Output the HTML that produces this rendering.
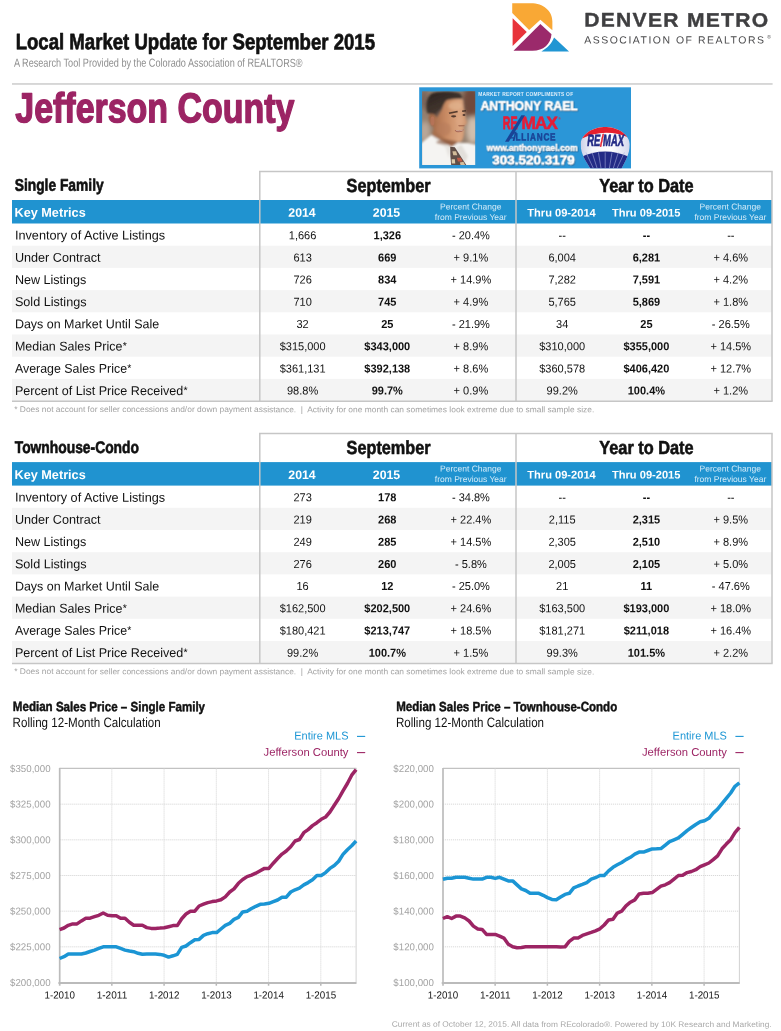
<!DOCTYPE html>
<html lang="en"><head><meta charset="utf-8"><title>Local Market Update for September 2015 - Jefferson County</title>
<style>
html,body{margin:0;padding:0;background:#fff;}
body{width:781px;height:1031px;overflow:hidden;font-family:"Liberation Sans",sans-serif;}
svg{display:block;}
svg text{font-family:"Liberation Sans",sans-serif;}
</style></head><body>
<svg width="781" height="1031" viewBox="0 0 781 1031">
<rect width="781" height="1031" fill="#fff"/>
<g id="header">
<text transform="translate(15.65 49.20) scale(0.8340 1) rotate(0.03)" font-size="22.3" font-weight="bold" fill="#111" stroke="#111" stroke-width="0.7" stroke-linejoin="round">Local Market Update for September 2015</text>
<text transform="translate(13.90 66.70) scale(0.7753 1) rotate(0.03)" font-size="11.8" fill="#8e8e8e">A Research Tool Provided by the Colorado Association of REALTORS®</text>
<rect x="12.00" y="83.00" width="760.60" height="1.90" fill="#d6d6d6"/>
<text transform="translate(15.30 122.25) scale(0.8120 1) rotate(0.03)" font-size="41.8" font-weight="bold" fill="#9c2464" stroke="#9c2464" stroke-width="1.4" stroke-linejoin="round">Jefferson County</text>
</g>
<g id="logo" transform="translate(508 0) scale(0.084507)">
<path d="M50 38 H270 C420 38 525 130 525 250 V358 L383 235 L250 355 L50 155 Z" fill="#f9a835"/>
<path d="M55 215 L222 380 L55 545 Z" fill="#e8333a"/>
<path d="M65 601 L383 285 L515 405 C505 520 420 601 290 601 Z" fill="#9b2a6b"/>
<path d="M545 445 L722 608 H395 C470 570 520 510 545 445 Z" fill="#2196d3"/>
</g>
<text transform="translate(584.30 26.60) scale(1.0748 1) rotate(0.03)" font-size="19.6" font-weight="bold" letter-spacing="1.2" fill="#3f3f41" stroke="#3f3f41" stroke-width="0.4" stroke-linejoin="round">DENVER METRO</text>
<text transform="translate(584.20 43.50) scale(1.0076 1) rotate(0.03)" font-size="10.4" letter-spacing="1.5" fill="#4a4a4c">ASSOCIATION OF REALTORS</text>
<text transform="translate(767.30 38.60) scale(1.0000 1) rotate(0.03)" font-size="5" fill="#4a4a4c">®</text>
<g class="tbl">
<rect x="12.00" y="245.70" width="759.80" height="22.20" fill="#f4f4f4"/>
<rect x="12.00" y="290.10" width="759.80" height="22.20" fill="#f4f4f4"/>
<rect x="12.00" y="334.50" width="759.80" height="22.20" fill="#f4f4f4"/>
<rect x="12.00" y="378.90" width="759.80" height="22.20" fill="#f4f4f4"/>
<rect x="12.00" y="200.00" width="760.00" height="23.50" fill="#2093d0"/>
<line x1="259.00" y1="171.50" x2="772.70" y2="171.50" stroke="#c6c6c6" stroke-width="1.5"/>
<line x1="259.80" y1="171.50" x2="259.80" y2="401.10" stroke="#c6c6c6" stroke-width="1.5"/>
<line x1="516.00" y1="171.50" x2="516.00" y2="401.10" stroke="#c6c6c6" stroke-width="1.5"/>
<line x1="772.00" y1="171.50" x2="772.00" y2="401.10" stroke="#c6c6c6" stroke-width="1.5"/>
<line x1="12.00" y1="401.30" x2="772.70" y2="401.30" stroke="#c6c6c6" stroke-width="1.5"/>
<text transform="translate(14.70 190.80) scale(0.8169 1) rotate(0.03)" font-size="16.9" font-weight="bold" fill="#111" stroke="#111" stroke-width="0.6" stroke-linejoin="round">Single Family</text>
<text transform="translate(388.60 192.00) scale(0.8645 1) rotate(0.03)" font-size="18.8" font-weight="bold" text-anchor="middle" fill="#111" stroke="#111" stroke-width="0.6" stroke-linejoin="round">September</text>
<text transform="translate(646.40 192.00) scale(0.8687 1) rotate(0.03)" font-size="18.8" font-weight="bold" text-anchor="middle" fill="#111" stroke="#111" stroke-width="0.6" stroke-linejoin="round">Year to Date</text>
<text transform="translate(14.50 216.80) scale(1.0000 1) rotate(0.03)" font-size="12.7" font-weight="bold" fill="#fff">Key Metrics</text>
<text transform="translate(302.00 216.80) scale(1.0000 1) rotate(0.03)" font-size="12.3" font-weight="bold" text-anchor="middle" fill="#fff">2014</text>
<text transform="translate(386.50 216.80) scale(1.0000 1) rotate(0.03)" font-size="12.3" font-weight="bold" text-anchor="middle" fill="#fff">2015</text>
<text transform="translate(561.50 216.40) scale(1.0000 1) rotate(0.03)" font-size="11.1" font-weight="bold" text-anchor="middle" fill="#fff">Thru 09-2014</text>
<text transform="translate(646.20 216.40) scale(1.0000 1) rotate(0.03)" font-size="11.1" font-weight="bold" text-anchor="middle" fill="#fff">Thru 09-2015</text>
<text transform="translate(470.70 209.40) scale(1.0000 1) rotate(0.03)" font-size="8.5" text-anchor="middle" fill="#d4ecf9">Percent Change</text>
<text transform="translate(470.70 219.90) scale(1.0000 1) rotate(0.03)" font-size="8.5" text-anchor="middle" fill="#d4ecf9">from Previous Year</text>
<text transform="translate(730.30 209.40) scale(1.0000 1) rotate(0.03)" font-size="8.5" text-anchor="middle" fill="#d4ecf9">Percent Change</text>
<text transform="translate(730.30 219.90) scale(1.0000 1) rotate(0.03)" font-size="8.5" text-anchor="middle" fill="#d4ecf9">from Previous Year</text>
<text transform="translate(14.90 239.50) scale(0.9996 1) rotate(0.03)" font-size="12.7" fill="#111">Inventory of Active Listings</text>
<text transform="translate(302.60 239.20) scale(0.9500 1) rotate(0.03)" font-size="11.6" text-anchor="middle" fill="#111">1,666</text>
<text transform="translate(387.30 239.20) scale(0.9500 1) rotate(0.03)" font-size="11.6" font-weight="bold" text-anchor="middle" fill="#111">1,326</text>
<text transform="translate(470.90 239.20) scale(0.9500 1) rotate(0.03)" font-size="11.6" text-anchor="middle" fill="#111">- 20.4%</text>
<text transform="translate(562.20 239.20) scale(0.9500 1) rotate(0.03)" font-size="11.6" text-anchor="middle" fill="#111">--</text>
<text transform="translate(646.40 239.20) scale(0.9500 1) rotate(0.03)" font-size="11.6" font-weight="bold" text-anchor="middle" fill="#111">--</text>
<text transform="translate(730.80 239.20) scale(0.9500 1) rotate(0.03)" font-size="11.6" text-anchor="middle" fill="#111">--</text>
<text transform="translate(14.90 261.70) scale(0.9963 1) rotate(0.03)" font-size="12.7" fill="#111">Under Contract</text>
<text transform="translate(302.60 261.40) scale(0.9500 1) rotate(0.03)" font-size="11.6" text-anchor="middle" fill="#111">613</text>
<text transform="translate(387.30 261.40) scale(0.9500 1) rotate(0.03)" font-size="11.6" font-weight="bold" text-anchor="middle" fill="#111">669</text>
<text transform="translate(470.90 261.40) scale(0.9500 1) rotate(0.03)" font-size="11.6" text-anchor="middle" fill="#111">+ 9.1%</text>
<text transform="translate(562.20 261.40) scale(0.9500 1) rotate(0.03)" font-size="11.6" text-anchor="middle" fill="#111">6,004</text>
<text transform="translate(646.40 261.40) scale(0.9500 1) rotate(0.03)" font-size="11.6" font-weight="bold" text-anchor="middle" fill="#111">6,281</text>
<text transform="translate(730.80 261.40) scale(0.9500 1) rotate(0.03)" font-size="11.6" text-anchor="middle" fill="#111">+ 4.6%</text>
<text transform="translate(14.90 283.90) scale(0.9917 1) rotate(0.03)" font-size="12.7" fill="#111">New Listings</text>
<text transform="translate(302.60 283.60) scale(0.9500 1) rotate(0.03)" font-size="11.6" text-anchor="middle" fill="#111">726</text>
<text transform="translate(387.30 283.60) scale(0.9500 1) rotate(0.03)" font-size="11.6" font-weight="bold" text-anchor="middle" fill="#111">834</text>
<text transform="translate(470.90 283.60) scale(0.9500 1) rotate(0.03)" font-size="11.6" text-anchor="middle" fill="#111">+ 14.9%</text>
<text transform="translate(562.20 283.60) scale(0.9500 1) rotate(0.03)" font-size="11.6" text-anchor="middle" fill="#111">7,282</text>
<text transform="translate(646.40 283.60) scale(0.9500 1) rotate(0.03)" font-size="11.6" font-weight="bold" text-anchor="middle" fill="#111">7,591</text>
<text transform="translate(730.80 283.60) scale(0.9500 1) rotate(0.03)" font-size="11.6" text-anchor="middle" fill="#111">+ 4.2%</text>
<text transform="translate(14.90 306.10) scale(0.9957 1) rotate(0.03)" font-size="12.7" fill="#111">Sold Listings</text>
<text transform="translate(302.60 305.80) scale(0.9500 1) rotate(0.03)" font-size="11.6" text-anchor="middle" fill="#111">710</text>
<text transform="translate(387.30 305.80) scale(0.9500 1) rotate(0.03)" font-size="11.6" font-weight="bold" text-anchor="middle" fill="#111">745</text>
<text transform="translate(470.90 305.80) scale(0.9500 1) rotate(0.03)" font-size="11.6" text-anchor="middle" fill="#111">+ 4.9%</text>
<text transform="translate(562.20 305.80) scale(0.9500 1) rotate(0.03)" font-size="11.6" text-anchor="middle" fill="#111">5,765</text>
<text transform="translate(646.40 305.80) scale(0.9500 1) rotate(0.03)" font-size="11.6" font-weight="bold" text-anchor="middle" fill="#111">5,869</text>
<text transform="translate(730.80 305.80) scale(0.9500 1) rotate(0.03)" font-size="11.6" text-anchor="middle" fill="#111">+ 1.8%</text>
<text transform="translate(14.90 328.30) scale(0.9835 1) rotate(0.03)" font-size="12.7" fill="#111">Days on Market Until Sale</text>
<text transform="translate(302.60 328.00) scale(0.9500 1) rotate(0.03)" font-size="11.6" text-anchor="middle" fill="#111">32</text>
<text transform="translate(387.30 328.00) scale(0.9500 1) rotate(0.03)" font-size="11.6" font-weight="bold" text-anchor="middle" fill="#111">25</text>
<text transform="translate(470.90 328.00) scale(0.9500 1) rotate(0.03)" font-size="11.6" text-anchor="middle" fill="#111">- 21.9%</text>
<text transform="translate(562.20 328.00) scale(0.9500 1) rotate(0.03)" font-size="11.6" text-anchor="middle" fill="#111">34</text>
<text transform="translate(646.40 328.00) scale(0.9500 1) rotate(0.03)" font-size="11.6" font-weight="bold" text-anchor="middle" fill="#111">25</text>
<text transform="translate(730.80 328.00) scale(0.9500 1) rotate(0.03)" font-size="11.6" text-anchor="middle" fill="#111">- 26.5%</text>
<text transform="translate(14.90 350.50) scale(0.9834 1) rotate(0.03)" font-size="12.7" fill="#111">Median Sales Price</text>
<text transform="translate(122.70 349.30) scale(1.0000 1) rotate(0.03)" font-size="10.5" fill="#111">*</text>
<text transform="translate(302.60 350.20) scale(0.9500 1) rotate(0.03)" font-size="11.6" text-anchor="middle" fill="#111">$315,000</text>
<text transform="translate(387.30 350.20) scale(0.9500 1) rotate(0.03)" font-size="11.6" font-weight="bold" text-anchor="middle" fill="#111">$343,000</text>
<text transform="translate(470.90 350.20) scale(0.9500 1) rotate(0.03)" font-size="11.6" text-anchor="middle" fill="#111">+ 8.9%</text>
<text transform="translate(562.20 350.20) scale(0.9500 1) rotate(0.03)" font-size="11.6" text-anchor="middle" fill="#111">$310,000</text>
<text transform="translate(646.40 350.20) scale(0.9500 1) rotate(0.03)" font-size="11.6" font-weight="bold" text-anchor="middle" fill="#111">$355,000</text>
<text transform="translate(730.80 350.20) scale(0.9500 1) rotate(0.03)" font-size="11.6" text-anchor="middle" fill="#111">+ 14.5%</text>
<text transform="translate(14.90 372.70) scale(0.9770 1) rotate(0.03)" font-size="12.7" fill="#111">Average Sales Price</text>
<text transform="translate(127.30 371.50) scale(1.0000 1) rotate(0.03)" font-size="10.5" fill="#111">*</text>
<text transform="translate(302.60 372.40) scale(0.9500 1) rotate(0.03)" font-size="11.6" text-anchor="middle" fill="#111">$361,131</text>
<text transform="translate(387.30 372.40) scale(0.9500 1) rotate(0.03)" font-size="11.6" font-weight="bold" text-anchor="middle" fill="#111">$392,138</text>
<text transform="translate(470.90 372.40) scale(0.9500 1) rotate(0.03)" font-size="11.6" text-anchor="middle" fill="#111">+ 8.6%</text>
<text transform="translate(562.20 372.40) scale(0.9500 1) rotate(0.03)" font-size="11.6" text-anchor="middle" fill="#111">$360,578</text>
<text transform="translate(646.40 372.40) scale(0.9500 1) rotate(0.03)" font-size="11.6" font-weight="bold" text-anchor="middle" fill="#111">$406,420</text>
<text transform="translate(730.80 372.40) scale(0.9500 1) rotate(0.03)" font-size="11.6" text-anchor="middle" fill="#111">+ 12.7%</text>
<text transform="translate(14.90 394.90) scale(0.9905 1) rotate(0.03)" font-size="12.7" fill="#111">Percent of List Price Received</text>
<text transform="translate(183.60 393.70) scale(1.0000 1) rotate(0.03)" font-size="10.5" fill="#111">*</text>
<text transform="translate(302.60 394.60) scale(0.9500 1) rotate(0.03)" font-size="11.6" text-anchor="middle" fill="#111">98.8%</text>
<text transform="translate(387.30 394.60) scale(0.9500 1) rotate(0.03)" font-size="11.6" font-weight="bold" text-anchor="middle" fill="#111">99.7%</text>
<text transform="translate(470.90 394.60) scale(0.9500 1) rotate(0.03)" font-size="11.6" text-anchor="middle" fill="#111">+ 0.9%</text>
<text transform="translate(562.20 394.60) scale(0.9500 1) rotate(0.03)" font-size="11.6" text-anchor="middle" fill="#111">99.2%</text>
<text transform="translate(646.40 394.60) scale(0.9500 1) rotate(0.03)" font-size="11.6" font-weight="bold" text-anchor="middle" fill="#111">100.4%</text>
<text transform="translate(730.80 394.60) scale(0.9500 1) rotate(0.03)" font-size="11.6" text-anchor="middle" fill="#111">+ 1.2%</text>
<text transform="translate(14.20 412.00) scale(1.0283 1) rotate(0.03)" font-size="8.2" fill="#a2a2a2" xml:space="preserve">* Does not account for seller concessions and/or down payment assistance.  |  Activity for one month can sometimes look extreme due to small sample size.</text>
</g>
<g class="tbl">
<rect x="12.00" y="507.80" width="759.80" height="22.20" fill="#f4f4f4"/>
<rect x="12.00" y="552.20" width="759.80" height="22.20" fill="#f4f4f4"/>
<rect x="12.00" y="596.60" width="759.80" height="22.20" fill="#f4f4f4"/>
<rect x="12.00" y="641.00" width="759.80" height="22.20" fill="#f4f4f4"/>
<rect x="12.00" y="462.10" width="760.00" height="23.50" fill="#2093d0"/>
<line x1="259.00" y1="433.60" x2="772.70" y2="433.60" stroke="#c6c6c6" stroke-width="1.5"/>
<line x1="259.80" y1="433.60" x2="259.80" y2="663.20" stroke="#c6c6c6" stroke-width="1.5"/>
<line x1="516.00" y1="433.60" x2="516.00" y2="663.20" stroke="#c6c6c6" stroke-width="1.5"/>
<line x1="772.00" y1="433.60" x2="772.00" y2="663.20" stroke="#c6c6c6" stroke-width="1.5"/>
<line x1="12.00" y1="663.40" x2="772.70" y2="663.40" stroke="#c6c6c6" stroke-width="1.5"/>
<text transform="translate(14.70 452.90) scale(0.8197 1) rotate(0.03)" font-size="16.9" font-weight="bold" fill="#111" stroke="#111" stroke-width="0.6" stroke-linejoin="round">Townhouse-Condo</text>
<text transform="translate(388.60 454.10) scale(0.8645 1) rotate(0.03)" font-size="18.8" font-weight="bold" text-anchor="middle" fill="#111" stroke="#111" stroke-width="0.6" stroke-linejoin="round">September</text>
<text transform="translate(646.40 454.10) scale(0.8687 1) rotate(0.03)" font-size="18.8" font-weight="bold" text-anchor="middle" fill="#111" stroke="#111" stroke-width="0.6" stroke-linejoin="round">Year to Date</text>
<text transform="translate(14.50 478.90) scale(1.0000 1) rotate(0.03)" font-size="12.7" font-weight="bold" fill="#fff">Key Metrics</text>
<text transform="translate(302.00 478.90) scale(1.0000 1) rotate(0.03)" font-size="12.3" font-weight="bold" text-anchor="middle" fill="#fff">2014</text>
<text transform="translate(386.50 478.90) scale(1.0000 1) rotate(0.03)" font-size="12.3" font-weight="bold" text-anchor="middle" fill="#fff">2015</text>
<text transform="translate(561.50 478.50) scale(1.0000 1) rotate(0.03)" font-size="11.1" font-weight="bold" text-anchor="middle" fill="#fff">Thru 09-2014</text>
<text transform="translate(646.20 478.50) scale(1.0000 1) rotate(0.03)" font-size="11.1" font-weight="bold" text-anchor="middle" fill="#fff">Thru 09-2015</text>
<text transform="translate(470.70 471.50) scale(1.0000 1) rotate(0.03)" font-size="8.5" text-anchor="middle" fill="#d4ecf9">Percent Change</text>
<text transform="translate(470.70 482.00) scale(1.0000 1) rotate(0.03)" font-size="8.5" text-anchor="middle" fill="#d4ecf9">from Previous Year</text>
<text transform="translate(730.30 471.50) scale(1.0000 1) rotate(0.03)" font-size="8.5" text-anchor="middle" fill="#d4ecf9">Percent Change</text>
<text transform="translate(730.30 482.00) scale(1.0000 1) rotate(0.03)" font-size="8.5" text-anchor="middle" fill="#d4ecf9">from Previous Year</text>
<text transform="translate(14.90 501.60) scale(0.9996 1) rotate(0.03)" font-size="12.7" fill="#111">Inventory of Active Listings</text>
<text transform="translate(302.60 501.30) scale(0.9500 1) rotate(0.03)" font-size="11.6" text-anchor="middle" fill="#111">273</text>
<text transform="translate(387.30 501.30) scale(0.9500 1) rotate(0.03)" font-size="11.6" font-weight="bold" text-anchor="middle" fill="#111">178</text>
<text transform="translate(470.90 501.30) scale(0.9500 1) rotate(0.03)" font-size="11.6" text-anchor="middle" fill="#111">- 34.8%</text>
<text transform="translate(562.20 501.30) scale(0.9500 1) rotate(0.03)" font-size="11.6" text-anchor="middle" fill="#111">--</text>
<text transform="translate(646.40 501.30) scale(0.9500 1) rotate(0.03)" font-size="11.6" font-weight="bold" text-anchor="middle" fill="#111">--</text>
<text transform="translate(730.80 501.30) scale(0.9500 1) rotate(0.03)" font-size="11.6" text-anchor="middle" fill="#111">--</text>
<text transform="translate(14.90 523.80) scale(0.9963 1) rotate(0.03)" font-size="12.7" fill="#111">Under Contract</text>
<text transform="translate(302.60 523.50) scale(0.9500 1) rotate(0.03)" font-size="11.6" text-anchor="middle" fill="#111">219</text>
<text transform="translate(387.30 523.50) scale(0.9500 1) rotate(0.03)" font-size="11.6" font-weight="bold" text-anchor="middle" fill="#111">268</text>
<text transform="translate(470.90 523.50) scale(0.9500 1) rotate(0.03)" font-size="11.6" text-anchor="middle" fill="#111">+ 22.4%</text>
<text transform="translate(562.20 523.50) scale(0.9500 1) rotate(0.03)" font-size="11.6" text-anchor="middle" fill="#111">2,115</text>
<text transform="translate(646.40 523.50) scale(0.9500 1) rotate(0.03)" font-size="11.6" font-weight="bold" text-anchor="middle" fill="#111">2,315</text>
<text transform="translate(730.80 523.50) scale(0.9500 1) rotate(0.03)" font-size="11.6" text-anchor="middle" fill="#111">+ 9.5%</text>
<text transform="translate(14.90 546.00) scale(0.9917 1) rotate(0.03)" font-size="12.7" fill="#111">New Listings</text>
<text transform="translate(302.60 545.70) scale(0.9500 1) rotate(0.03)" font-size="11.6" text-anchor="middle" fill="#111">249</text>
<text transform="translate(387.30 545.70) scale(0.9500 1) rotate(0.03)" font-size="11.6" font-weight="bold" text-anchor="middle" fill="#111">285</text>
<text transform="translate(470.90 545.70) scale(0.9500 1) rotate(0.03)" font-size="11.6" text-anchor="middle" fill="#111">+ 14.5%</text>
<text transform="translate(562.20 545.70) scale(0.9500 1) rotate(0.03)" font-size="11.6" text-anchor="middle" fill="#111">2,305</text>
<text transform="translate(646.40 545.70) scale(0.9500 1) rotate(0.03)" font-size="11.6" font-weight="bold" text-anchor="middle" fill="#111">2,510</text>
<text transform="translate(730.80 545.70) scale(0.9500 1) rotate(0.03)" font-size="11.6" text-anchor="middle" fill="#111">+ 8.9%</text>
<text transform="translate(14.90 568.20) scale(0.9957 1) rotate(0.03)" font-size="12.7" fill="#111">Sold Listings</text>
<text transform="translate(302.60 567.90) scale(0.9500 1) rotate(0.03)" font-size="11.6" text-anchor="middle" fill="#111">276</text>
<text transform="translate(387.30 567.90) scale(0.9500 1) rotate(0.03)" font-size="11.6" font-weight="bold" text-anchor="middle" fill="#111">260</text>
<text transform="translate(470.90 567.90) scale(0.9500 1) rotate(0.03)" font-size="11.6" text-anchor="middle" fill="#111">- 5.8%</text>
<text transform="translate(562.20 567.90) scale(0.9500 1) rotate(0.03)" font-size="11.6" text-anchor="middle" fill="#111">2,005</text>
<text transform="translate(646.40 567.90) scale(0.9500 1) rotate(0.03)" font-size="11.6" font-weight="bold" text-anchor="middle" fill="#111">2,105</text>
<text transform="translate(730.80 567.90) scale(0.9500 1) rotate(0.03)" font-size="11.6" text-anchor="middle" fill="#111">+ 5.0%</text>
<text transform="translate(14.90 590.40) scale(0.9835 1) rotate(0.03)" font-size="12.7" fill="#111">Days on Market Until Sale</text>
<text transform="translate(302.60 590.10) scale(0.9500 1) rotate(0.03)" font-size="11.6" text-anchor="middle" fill="#111">16</text>
<text transform="translate(387.30 590.10) scale(0.9500 1) rotate(0.03)" font-size="11.6" font-weight="bold" text-anchor="middle" fill="#111">12</text>
<text transform="translate(470.90 590.10) scale(0.9500 1) rotate(0.03)" font-size="11.6" text-anchor="middle" fill="#111">- 25.0%</text>
<text transform="translate(562.20 590.10) scale(0.9500 1) rotate(0.03)" font-size="11.6" text-anchor="middle" fill="#111">21</text>
<text transform="translate(646.40 590.10) scale(0.9500 1) rotate(0.03)" font-size="11.6" font-weight="bold" text-anchor="middle" fill="#111">11</text>
<text transform="translate(730.80 590.10) scale(0.9500 1) rotate(0.03)" font-size="11.6" text-anchor="middle" fill="#111">- 47.6%</text>
<text transform="translate(14.90 612.60) scale(0.9834 1) rotate(0.03)" font-size="12.7" fill="#111">Median Sales Price</text>
<text transform="translate(122.70 611.40) scale(1.0000 1) rotate(0.03)" font-size="10.5" fill="#111">*</text>
<text transform="translate(302.60 612.30) scale(0.9500 1) rotate(0.03)" font-size="11.6" text-anchor="middle" fill="#111">$162,500</text>
<text transform="translate(387.30 612.30) scale(0.9500 1) rotate(0.03)" font-size="11.6" font-weight="bold" text-anchor="middle" fill="#111">$202,500</text>
<text transform="translate(470.90 612.30) scale(0.9500 1) rotate(0.03)" font-size="11.6" text-anchor="middle" fill="#111">+ 24.6%</text>
<text transform="translate(562.20 612.30) scale(0.9500 1) rotate(0.03)" font-size="11.6" text-anchor="middle" fill="#111">$163,500</text>
<text transform="translate(646.40 612.30) scale(0.9500 1) rotate(0.03)" font-size="11.6" font-weight="bold" text-anchor="middle" fill="#111">$193,000</text>
<text transform="translate(730.80 612.30) scale(0.9500 1) rotate(0.03)" font-size="11.6" text-anchor="middle" fill="#111">+ 18.0%</text>
<text transform="translate(14.90 634.80) scale(0.9770 1) rotate(0.03)" font-size="12.7" fill="#111">Average Sales Price</text>
<text transform="translate(127.30 633.60) scale(1.0000 1) rotate(0.03)" font-size="10.5" fill="#111">*</text>
<text transform="translate(302.60 634.50) scale(0.9500 1) rotate(0.03)" font-size="11.6" text-anchor="middle" fill="#111">$180,421</text>
<text transform="translate(387.30 634.50) scale(0.9500 1) rotate(0.03)" font-size="11.6" font-weight="bold" text-anchor="middle" fill="#111">$213,747</text>
<text transform="translate(470.90 634.50) scale(0.9500 1) rotate(0.03)" font-size="11.6" text-anchor="middle" fill="#111">+ 18.5%</text>
<text transform="translate(562.20 634.50) scale(0.9500 1) rotate(0.03)" font-size="11.6" text-anchor="middle" fill="#111">$181,271</text>
<text transform="translate(646.40 634.50) scale(0.9500 1) rotate(0.03)" font-size="11.6" font-weight="bold" text-anchor="middle" fill="#111">$211,018</text>
<text transform="translate(730.80 634.50) scale(0.9500 1) rotate(0.03)" font-size="11.6" text-anchor="middle" fill="#111">+ 16.4%</text>
<text transform="translate(14.90 657.00) scale(0.9905 1) rotate(0.03)" font-size="12.7" fill="#111">Percent of List Price Received</text>
<text transform="translate(183.60 655.80) scale(1.0000 1) rotate(0.03)" font-size="10.5" fill="#111">*</text>
<text transform="translate(302.60 656.70) scale(0.9500 1) rotate(0.03)" font-size="11.6" text-anchor="middle" fill="#111">99.2%</text>
<text transform="translate(387.30 656.70) scale(0.9500 1) rotate(0.03)" font-size="11.6" font-weight="bold" text-anchor="middle" fill="#111">100.7%</text>
<text transform="translate(470.90 656.70) scale(0.9500 1) rotate(0.03)" font-size="11.6" text-anchor="middle" fill="#111">+ 1.5%</text>
<text transform="translate(562.20 656.70) scale(0.9500 1) rotate(0.03)" font-size="11.6" text-anchor="middle" fill="#111">99.3%</text>
<text transform="translate(646.40 656.70) scale(0.9500 1) rotate(0.03)" font-size="11.6" font-weight="bold" text-anchor="middle" fill="#111">101.5%</text>
<text transform="translate(730.80 656.70) scale(0.9500 1) rotate(0.03)" font-size="11.6" text-anchor="middle" fill="#111">+ 2.2%</text>
<text transform="translate(14.20 674.10) scale(1.0283 1) rotate(0.03)" font-size="8.2" fill="#a2a2a2" xml:space="preserve">* Does not account for seller concessions and/or down payment assistance.  |  Activity for one month can sometimes look extreme due to small sample size.</text>
</g>
<g class="chart">
<text transform="translate(12.82 711.10) scale(0.8578 1) rotate(0.03)" font-size="13.5" font-weight="bold" fill="#111" stroke="#111" stroke-width="0.45" stroke-linejoin="round">Median Sales Price – Single Family</text>
<text transform="translate(12.60 726.90) scale(0.8586 1) rotate(0.03)" font-size="13.5" fill="#111">Rolling 12-Month Calculation</text>
<text transform="translate(348.50 739.50) scale(0.9629 1) rotate(0.03)" font-size="11.4" text-anchor="end" fill="#1b95d4">Entire MLS</text>
<text transform="translate(348.50 755.90) scale(0.9887 1) rotate(0.03)" font-size="11.4" text-anchor="end" fill="#9c2464">Jefferson County</text>
<line x1="357.00" y1="736.40" x2="365.20" y2="736.40" stroke="#1b95d4" stroke-width="1.1"/>
<line x1="357.00" y1="752.60" x2="365.20" y2="752.60" stroke="#9c2464" stroke-width="1.1"/>
<line x1="59.60" y1="804.17" x2="356.10" y2="804.17" stroke="#d9d9d9" stroke-width="1" stroke-dasharray="1.2 0.8"/>
<line x1="59.60" y1="839.83" x2="356.10" y2="839.83" stroke="#d9d9d9" stroke-width="1" stroke-dasharray="1.2 0.8"/>
<line x1="59.60" y1="875.50" x2="356.10" y2="875.50" stroke="#d9d9d9" stroke-width="1" stroke-dasharray="1.2 0.8"/>
<line x1="59.60" y1="911.17" x2="356.10" y2="911.17" stroke="#d9d9d9" stroke-width="1" stroke-dasharray="1.2 0.8"/>
<line x1="59.60" y1="946.83" x2="356.10" y2="946.83" stroke="#d9d9d9" stroke-width="1" stroke-dasharray="1.2 0.8"/>
<line x1="59.60" y1="768.40" x2="356.50" y2="768.40" stroke="#c2c2c2" stroke-width="1.2"/>
<line x1="111.84" y1="768.50" x2="111.84" y2="982.50" stroke="#d9d9d9" stroke-width="1" stroke-dasharray="1.2 0.8"/>
<line x1="111.84" y1="982.50" x2="111.84" y2="985.70" stroke="#b6b6b6" stroke-width="1.5"/>
<line x1="164.08" y1="768.50" x2="164.08" y2="982.50" stroke="#d9d9d9" stroke-width="1" stroke-dasharray="1.2 0.8"/>
<line x1="164.08" y1="982.50" x2="164.08" y2="985.70" stroke="#b6b6b6" stroke-width="1.5"/>
<line x1="216.32" y1="768.50" x2="216.32" y2="982.50" stroke="#d9d9d9" stroke-width="1" stroke-dasharray="1.2 0.8"/>
<line x1="216.32" y1="982.50" x2="216.32" y2="985.70" stroke="#b6b6b6" stroke-width="1.5"/>
<line x1="268.56" y1="768.50" x2="268.56" y2="982.50" stroke="#d9d9d9" stroke-width="1" stroke-dasharray="1.2 0.8"/>
<line x1="268.56" y1="982.50" x2="268.56" y2="985.70" stroke="#b6b6b6" stroke-width="1.5"/>
<line x1="320.80" y1="768.50" x2="320.80" y2="982.50" stroke="#d9d9d9" stroke-width="1" stroke-dasharray="1.2 0.8"/>
<line x1="320.80" y1="982.50" x2="320.80" y2="985.70" stroke="#b6b6b6" stroke-width="1.5"/>
<line x1="356.10" y1="768.50" x2="356.10" y2="982.50" stroke="#d2d2d2" stroke-width="1"/>
<line x1="59.70" y1="767.90" x2="59.70" y2="985.70" stroke="#bcbcbc" stroke-width="1.7"/>
<line x1="58.40" y1="982.95" x2="356.50" y2="982.95" stroke="#bbbbbb" stroke-width="2.1"/>
<text transform="translate(50.60 771.90) scale(0.9734 1) rotate(0.03)" font-size="10.0" text-anchor="end" fill="#a3a3a3">$350,000</text>
<text transform="translate(50.60 807.57) scale(0.9734 1) rotate(0.03)" font-size="10.0" text-anchor="end" fill="#a3a3a3">$325,000</text>
<text transform="translate(50.60 843.23) scale(0.9734 1) rotate(0.03)" font-size="10.0" text-anchor="end" fill="#a3a3a3">$300,000</text>
<text transform="translate(50.60 878.90) scale(0.9734 1) rotate(0.03)" font-size="10.0" text-anchor="end" fill="#a3a3a3">$275,000</text>
<text transform="translate(50.60 914.57) scale(0.9734 1) rotate(0.03)" font-size="10.0" text-anchor="end" fill="#a3a3a3">$250,000</text>
<text transform="translate(50.60 950.23) scale(0.9734 1) rotate(0.03)" font-size="10.0" text-anchor="end" fill="#a3a3a3">$225,000</text>
<text transform="translate(50.60 985.90) scale(0.9734 1) rotate(0.03)" font-size="10.0" text-anchor="end" fill="#a3a3a3">$200,000</text>
<text transform="translate(59.70 998.60) scale(0.9541 1) rotate(0.03)" font-size="10.3" text-anchor="middle" fill="#161616">1-2010</text>
<text transform="translate(111.94 998.60) scale(0.9774 1) rotate(0.03)" font-size="10.3" text-anchor="middle" fill="#161616">1-2011</text>
<text transform="translate(164.18 998.60) scale(0.9541 1) rotate(0.03)" font-size="10.3" text-anchor="middle" fill="#161616">1-2012</text>
<text transform="translate(216.42 998.60) scale(0.9541 1) rotate(0.03)" font-size="10.3" text-anchor="middle" fill="#161616">1-2013</text>
<text transform="translate(268.66 998.60) scale(0.9541 1) rotate(0.03)" font-size="10.3" text-anchor="middle" fill="#161616">1-2014</text>
<text transform="translate(320.90 998.60) scale(0.9541 1) rotate(0.03)" font-size="10.3" text-anchor="middle" fill="#161616">1-2015</text>
<polyline points="59.6,958.5 64.0,956.7 68.3,954.0 72.7,954.0 77.0,954.0 81.4,954.0 85.8,953.0 90.1,951.5 94.5,950.1 98.8,948.4 103.2,946.8 107.6,946.8 111.9,946.8 116.3,946.8 120.6,948.4 125.0,950.1 129.4,951.0 133.7,951.7 138.1,953.3 142.4,954.3 146.8,954.0 151.2,954.0 155.5,954.0 159.9,954.4 164.2,955.3 168.6,957.1 173.0,955.8 177.3,954.4 181.7,947.4 186.0,946.0 190.4,942.7 194.8,939.8 199.1,939.4 203.5,935.4 207.8,933.7 212.2,932.6 216.6,932.6 220.9,929.0 225.3,925.4 229.7,923.4 234.0,919.4 238.4,917.4 242.7,911.9 247.1,911.2 251.5,908.5 255.8,906.3 260.2,904.3 264.5,904.0 268.9,903.3 273.3,901.6 277.6,900.0 282.0,897.2 286.3,897.2 290.7,892.0 295.1,889.8 299.4,888.2 303.8,884.9 308.1,882.6 312.5,879.8 316.9,875.5 321.2,875.5 325.6,872.6 329.9,868.4 334.3,865.5 338.7,861.2 343.0,854.4 347.4,849.7 351.7,845.8 356.1,841.0" fill="none" stroke="#1b95d4" stroke-width="3.5" stroke-linejoin="round" stroke-linecap="butt"/>
<polyline points="59.6,929.6 64.0,928.0 68.3,925.3 72.7,923.9 77.0,923.9 81.4,920.9 85.8,918.3 90.1,918.2 94.5,916.7 98.8,915.3 103.2,913.0 107.6,915.3 111.9,915.7 116.3,915.7 120.6,918.2 125.0,918.2 129.4,922.3 133.7,925.3 138.1,925.3 142.4,925.3 146.8,927.6 151.2,928.4 155.5,928.4 159.9,928.1 164.2,927.7 168.6,926.7 173.0,925.6 177.3,925.6 181.7,918.7 186.0,914.0 190.4,911.2 194.8,911.2 199.1,906.0 203.5,904.2 207.8,902.6 212.2,901.6 216.6,900.9 220.9,899.8 225.3,896.9 229.7,892.0 234.0,888.9 238.4,883.3 242.7,879.5 247.1,876.6 251.5,875.1 255.8,873.2 260.2,870.8 264.5,868.4 268.9,868.4 273.3,863.2 277.6,858.5 282.0,854.1 286.3,851.0 290.7,846.7 295.1,841.0 299.4,839.5 303.8,832.7 308.1,829.6 312.5,825.6 316.9,822.7 321.2,819.3 325.6,817.0 329.9,812.0 334.3,805.3 338.7,798.5 343.0,790.8 347.4,783.5 351.7,775.2 356.1,769.6" fill="none" stroke="#9c2464" stroke-width="3.5" stroke-linejoin="round" stroke-linecap="butt"/>
</g>
<g class="chart">
<text transform="translate(396.13 711.10) scale(0.8565 1) rotate(0.03)" font-size="13.5" font-weight="bold" fill="#111" stroke="#111" stroke-width="0.45" stroke-linejoin="round">Median Sales Price – Townhouse-Condo</text>
<text transform="translate(395.90 726.90) scale(0.8586 1) rotate(0.03)" font-size="13.5" fill="#111">Rolling 12-Month Calculation</text>
<text transform="translate(726.90 739.50) scale(0.9629 1) rotate(0.03)" font-size="11.4" text-anchor="end" fill="#1b95d4">Entire MLS</text>
<text transform="translate(726.90 755.90) scale(0.9887 1) rotate(0.03)" font-size="11.4" text-anchor="end" fill="#9c2464">Jefferson County</text>
<line x1="735.40" y1="736.40" x2="743.60" y2="736.40" stroke="#1b95d4" stroke-width="1.1"/>
<line x1="735.40" y1="752.60" x2="743.60" y2="752.60" stroke="#9c2464" stroke-width="1.1"/>
<line x1="442.90" y1="804.17" x2="739.40" y2="804.17" stroke="#d9d9d9" stroke-width="1" stroke-dasharray="1.2 0.8"/>
<line x1="442.90" y1="839.83" x2="739.40" y2="839.83" stroke="#d9d9d9" stroke-width="1" stroke-dasharray="1.2 0.8"/>
<line x1="442.90" y1="875.50" x2="739.40" y2="875.50" stroke="#d9d9d9" stroke-width="1" stroke-dasharray="1.2 0.8"/>
<line x1="442.90" y1="911.17" x2="739.40" y2="911.17" stroke="#d9d9d9" stroke-width="1" stroke-dasharray="1.2 0.8"/>
<line x1="442.90" y1="946.83" x2="739.40" y2="946.83" stroke="#d9d9d9" stroke-width="1" stroke-dasharray="1.2 0.8"/>
<line x1="442.90" y1="768.40" x2="739.80" y2="768.40" stroke="#c2c2c2" stroke-width="1.2"/>
<line x1="495.14" y1="768.50" x2="495.14" y2="982.50" stroke="#d9d9d9" stroke-width="1" stroke-dasharray="1.2 0.8"/>
<line x1="495.14" y1="982.50" x2="495.14" y2="985.70" stroke="#b6b6b6" stroke-width="1.5"/>
<line x1="547.38" y1="768.50" x2="547.38" y2="982.50" stroke="#d9d9d9" stroke-width="1" stroke-dasharray="1.2 0.8"/>
<line x1="547.38" y1="982.50" x2="547.38" y2="985.70" stroke="#b6b6b6" stroke-width="1.5"/>
<line x1="599.62" y1="768.50" x2="599.62" y2="982.50" stroke="#d9d9d9" stroke-width="1" stroke-dasharray="1.2 0.8"/>
<line x1="599.62" y1="982.50" x2="599.62" y2="985.70" stroke="#b6b6b6" stroke-width="1.5"/>
<line x1="651.86" y1="768.50" x2="651.86" y2="982.50" stroke="#d9d9d9" stroke-width="1" stroke-dasharray="1.2 0.8"/>
<line x1="651.86" y1="982.50" x2="651.86" y2="985.70" stroke="#b6b6b6" stroke-width="1.5"/>
<line x1="704.10" y1="768.50" x2="704.10" y2="982.50" stroke="#d9d9d9" stroke-width="1" stroke-dasharray="1.2 0.8"/>
<line x1="704.10" y1="982.50" x2="704.10" y2="985.70" stroke="#b6b6b6" stroke-width="1.5"/>
<line x1="739.40" y1="768.50" x2="739.40" y2="982.50" stroke="#d2d2d2" stroke-width="1"/>
<line x1="443.00" y1="767.90" x2="443.00" y2="985.70" stroke="#bcbcbc" stroke-width="1.7"/>
<line x1="441.70" y1="982.95" x2="739.80" y2="982.95" stroke="#bbbbbb" stroke-width="2.1"/>
<text transform="translate(433.90 771.90) scale(0.9734 1) rotate(0.03)" font-size="10.0" text-anchor="end" fill="#a3a3a3">$220,000</text>
<text transform="translate(433.90 807.57) scale(0.9734 1) rotate(0.03)" font-size="10.0" text-anchor="end" fill="#a3a3a3">$200,000</text>
<text transform="translate(433.90 843.23) scale(0.9734 1) rotate(0.03)" font-size="10.0" text-anchor="end" fill="#a3a3a3">$180,000</text>
<text transform="translate(433.90 878.90) scale(0.9734 1) rotate(0.03)" font-size="10.0" text-anchor="end" fill="#a3a3a3">$160,000</text>
<text transform="translate(433.90 914.57) scale(0.9734 1) rotate(0.03)" font-size="10.0" text-anchor="end" fill="#a3a3a3">$140,000</text>
<text transform="translate(433.90 950.23) scale(0.9734 1) rotate(0.03)" font-size="10.0" text-anchor="end" fill="#a3a3a3">$120,000</text>
<text transform="translate(433.90 985.90) scale(0.9734 1) rotate(0.03)" font-size="10.0" text-anchor="end" fill="#a3a3a3">$100,000</text>
<text transform="translate(443.00 998.60) scale(0.9541 1) rotate(0.03)" font-size="10.3" text-anchor="middle" fill="#161616">1-2010</text>
<text transform="translate(495.24 998.60) scale(0.9774 1) rotate(0.03)" font-size="10.3" text-anchor="middle" fill="#161616">1-2011</text>
<text transform="translate(547.48 998.60) scale(0.9541 1) rotate(0.03)" font-size="10.3" text-anchor="middle" fill="#161616">1-2012</text>
<text transform="translate(599.72 998.60) scale(0.9541 1) rotate(0.03)" font-size="10.3" text-anchor="middle" fill="#161616">1-2013</text>
<text transform="translate(651.96 998.60) scale(0.9541 1) rotate(0.03)" font-size="10.3" text-anchor="middle" fill="#161616">1-2014</text>
<text transform="translate(704.20 998.60) scale(0.9541 1) rotate(0.03)" font-size="10.3" text-anchor="middle" fill="#161616">1-2015</text>
<polyline points="442.9,879.2 447.3,878.2 451.6,878.2 456.0,877.3 460.3,877.3 464.7,877.3 469.1,878.2 473.4,879.1 477.8,879.1 482.1,879.1 486.5,877.3 490.9,877.3 495.2,878.4 499.6,877.3 503.9,879.1 508.3,880.9 512.7,880.9 517.0,884.9 521.4,888.9 525.7,890.5 530.1,893.3 534.5,893.3 538.8,893.3 543.2,895.3 547.5,897.6 551.9,899.4 556.3,899.8 560.6,897.1 565.0,894.4 569.3,893.3 573.7,887.8 578.1,886.0 582.4,884.4 586.8,882.6 591.2,879.2 595.5,877.7 599.9,875.5 604.2,875.5 608.6,870.9 613.0,867.3 617.3,864.8 621.7,862.5 626.0,859.6 630.4,857.3 634.8,854.1 639.1,852.1 643.5,852.1 647.8,850.5 652.2,848.9 656.6,848.8 660.9,848.6 665.3,845.2 669.6,841.6 674.0,839.8 678.4,837.9 682.7,834.3 687.1,830.6 691.4,827.5 695.8,824.5 700.2,821.8 704.5,820.7 708.9,818.3 713.2,813.1 717.6,809.1 722.0,803.7 726.3,798.4 730.7,793.0 735.0,786.3 739.4,782.8" fill="none" stroke="#1b95d4" stroke-width="3.5" stroke-linejoin="round" stroke-linecap="butt"/>
<polyline points="442.9,918.5 447.3,916.7 451.6,918.5 456.0,916.1 460.3,916.1 464.7,917.9 469.1,921.0 473.4,926.1 477.8,929.0 482.1,929.4 486.5,934.4 490.9,934.4 495.2,934.4 499.6,936.1 503.9,938.1 508.3,944.2 512.7,946.8 517.0,947.7 521.4,947.5 525.7,946.8 530.1,946.8 534.5,946.8 538.8,946.8 543.2,946.8 547.5,946.8 551.9,946.8 556.3,946.8 560.6,947.0 565.0,946.8 569.3,941.3 573.7,938.1 578.1,937.9 582.4,935.4 586.8,933.9 591.2,932.4 595.5,930.8 599.9,928.8 604.2,925.0 608.6,919.9 613.0,919.2 617.3,913.1 621.7,911.2 626.0,905.8 630.4,902.2 634.8,899.9 639.1,894.0 643.5,893.3 647.8,893.3 652.2,892.6 656.6,889.3 660.9,886.2 665.3,884.8 669.6,882.6 674.0,879.1 678.4,875.5 682.7,875.3 687.1,872.6 691.4,871.5 695.8,869.7 700.2,866.6 704.5,864.8 708.9,863.0 713.2,859.6 717.6,855.9 722.0,848.8 726.3,844.1 730.7,839.7 735.0,832.7 739.4,827.4" fill="none" stroke="#9c2464" stroke-width="3.5" stroke-linejoin="round" stroke-linecap="butt"/>
</g>
<text transform="translate(771.60 1027.00) scale(1.0454 1) rotate(0.03)" font-size="8" text-anchor="end" fill="#a8a8a8">Current as of October 12, 2015. All data from REcolorado®. Powered by 10K Research and Marketing.</text>
<g id="banner">
<defs>
<clipPath id="cpB"><rect x="419.3" y="87.5" width="211.7" height="80.8"/></clipPath>
<clipPath id="cpP"><rect x="38" y="65" width="652" height="905"/></clipPath>
<filter id="bl" x="-20%" y="-20%" width="140%" height="140%"><feGaussianBlur stdDeviation="11"/></filter>
<filter id="bl2" x="-20%" y="-20%" width="140%" height="140%"><feGaussianBlur stdDeviation="5"/></filter>
<filter id="bl3" x="-20%" y="-20%" width="140%" height="140%"><feGaussianBlur stdDeviation="30"/></filter>
<filter id="sh" x="-10%" y="-30%" width="120%" height="170%"><feDropShadow dx="0.5" dy="0.7" stdDeviation="0.55" flood-color="#0b2c5a" flood-opacity="0.95"/></filter>
<linearGradient id="hair" x1="0.2" y1="0" x2="0.8" y2="1"><stop offset="0" stop-color="#2d2420"/><stop offset="0.6" stop-color="#43362f"/><stop offset="1" stop-color="#6a584e"/></linearGradient>
<linearGradient id="skin" x1="0" y1="0" x2="1" y2="0"><stop offset="0" stop-color="#9c6242"/><stop offset="0.45" stop-color="#c88a63"/><stop offset="0.8" stop-color="#dba57f"/><stop offset="1" stop-color="#cf9570"/></linearGradient>
<clipPath id="cpBal"><path d="M405 85 C560 85 705 180 705 300 C705 420 640 520 600 600 H230 C180 520 105 420 105 300 C105 180 250 85 405 85 Z"/></clipPath>
<linearGradient id="balw" x1="0" y1="0" x2="1" y2="0"><stop offset="0" stop-color="#c9cde6"/><stop offset="0.25" stop-color="#f4f5fb"/><stop offset="0.6" stop-color="#ffffff"/><stop offset="1" stop-color="#cfd3ea"/></linearGradient>
</defs>
<rect x="419.20" y="87.30" width="211.80" height="81.10" fill="#2b96d7"/>
<g transform="translate(419 86) scale(0.0815)"><g clip-path="url(#cpP)">
<rect x="38" y="65" width="652" height="905" fill="#94806f"/>
<g filter="url(#bl3)">
<ellipse cx="640" cy="200" rx="110" ry="190" fill="#6f4a3a"/>
<ellipse cx="660" cy="540" rx="80" ry="170" fill="#d2bfae"/>
<ellipse cx="70" cy="560" rx="70" ry="130" fill="#b9a799"/>
<ellipse cx="60" cy="170" rx="70" ry="120" fill="#7a655a"/>
</g><g filter="url(#bl)">
<path d="M20 705 L150 600 L400 745 L470 700 L600 700 L710 725 V990 H20 Z" fill="#f5f4f2"/>
<path d="M440 760 L520 720 L600 860 L560 960 Z" fill="#e2dfda"/>
<path d="M150 610 L395 750 L365 880 L330 760 Z" fill="#e6e3df"/>
<path d="M175 520 L450 600 L470 700 L400 745 L160 600 Z" fill="#a8714f"/>
<path d="M330 170 C400 150 480 150 540 165 L555 300 C560 350 578 400 590 450 C585 475 560 482 547 490 L556 545 C556 600 545 650 520 680 C470 702 420 690 380 670 C300 640 230 590 200 540 L170 500 C130 470 110 400 125 350 C150 330 190 340 215 380 L270 300 Z" fill="url(#skin)"/>
<path d="M100 335 C80 250 85 150 150 95 C220 60 400 60 500 90 C522 110 532 130 527 158 C460 150 390 160 335 178 C305 220 285 260 272 305 L218 388 C200 350 180 340 160 345 Z" fill="url(#hair)"/>
<path d="M215 390 L272 305 L300 250 L250 300 L205 350 Z" fill="#6e5a50"/>
<ellipse cx="300" cy="530" rx="95" ry="85" fill="#b67b5b" opacity="0.55"/>
<ellipse cx="445" cy="245" rx="85" ry="50" fill="#e3b48f" opacity="0.7"/>
<ellipse cx="500" cy="430" rx="45" ry="60" fill="#dda783" opacity="0.7"/>
<ellipse cx="340" cy="690" rx="130" ry="30" fill="#87573d" opacity="0.6"/>
</g><g filter="url(#bl2)" opacity="0.85">
<ellipse cx="165" cy="430" rx="25" ry="55" fill="#b8745a"/>
<path d="M365 325 L470 305 L478 322 L372 345 Z" fill="#3f2c24"/>
<path d="M528 302 L575 296 L577 312 L531 318 Z" fill="#3f2c24"/>
<ellipse cx="425" cy="372" rx="32" ry="13" fill="#3c2a23"/>
<ellipse cx="552" cy="356" rx="18" ry="11" fill="#3c2a23"/>
<path d="M480 480 L560 478 L555 495 L490 497 Z" fill="#a56a50"/>
<path d="M438 540 Q500 552 553 530 Q540 575 455 565 Z" fill="#9a5548"/>
<path d="M455 548 Q500 556 545 540" stroke="#f1e4dc" stroke-width="7" fill="none"/>
<path d="M383 745 L440 752 L582 972 H395 L385 860 Z" fill="#46302a"/>
<path d="M410 800 L455 800 L470 850 L420 850 Z" fill="#cdb28a"/>
<path d="M465 880 L515 880 L535 925 L478 925 Z" fill="#b5402c"/>
<path d="M400 900 L440 900 L445 950 L402 950 Z" fill="#d7c3a0"/>
<path d="M500 940 L545 930 L565 968 L510 968 Z" fill="#d0b48c"/>
</g></g></g>
<g clip-path="url(#cpB)"><g transform="translate(572 120) scale(0.08197)"><g clip-path="url(#cpBal)">
<rect x="90" y="70" width="640" height="540" fill="url(#balw)"/>
<path d="M90 240 Q405 78 720 228 V70 H90 Z" fill="#e5202e"/>
<path d="M90 460 Q405 310 720 460 V620 H90 Z" fill="#232b86"/>
<line x1="170" y1="395" x2="265" y2="600" stroke="#aab0dd" stroke-width="7"/>
<line x1="245" y1="395" x2="310" y2="600" stroke="#aab0dd" stroke-width="7"/>
<line x1="322" y1="395" x2="356" y2="600" stroke="#aab0dd" stroke-width="7"/>
<line x1="405" y1="395" x2="405" y2="600" stroke="#aab0dd" stroke-width="7"/>
<line x1="488" y1="395" x2="454" y2="600" stroke="#aab0dd" stroke-width="7"/>
<line x1="565" y1="395" x2="500" y2="600" stroke="#aab0dd" stroke-width="7"/>
<line x1="640" y1="395" x2="545" y2="600" stroke="#aab0dd" stroke-width="7"/>
</g>
<text transform="translate(405 318) scale(0.58 1) skewX(-10)" font-size="200" font-weight="bold" text-anchor="middle" fill="#232b86" stroke="#232b86" stroke-width="8">RE<tspan fill="#e5202e" stroke="#e5202e">/</tspan>MAX</text>
</g></g>
<text transform="translate(478.20 96.00) scale(0.8310 1) rotate(0.03)" font-size="5.9" font-weight="bold" letter-spacing="0.3" fill="#dcedf9" xml:space="preserve">MARKET REPORT COMPLIMENTS OF</text>
<text transform="translate(480.50 110.20) scale(0.9390 1) rotate(0.03)" font-size="13.1" font-weight="bold" fill="#fff" filter="url(#sh)" stroke="#fff" stroke-width="0.4" stroke-linejoin="round">ANTHONY RAEL</text>
<text transform="translate(502.75 129.10) scale(0.5879 1) rotate(0.03)" font-size="18.0" font-weight="bold" fill="#e51d37" stroke="#e51d37" stroke-width="0.9" stroke-linejoin="round">RE</text>
<text transform="translate(521.25 129.10) scale(0.9807 1) rotate(0.03)" font-size="18.0" font-weight="bold" letter-spacing="-1.2" fill="#e51d37" stroke="#e51d37" stroke-width="0.5" stroke-linejoin="round">MAX</text>
<text transform="translate(505.0 141.0) skewX(-24) scale(0.9 1)" font-size="35.5" font-weight="bold" fill="#1a4497">/</text>
<text transform="translate(505.6 140.5) skewX(-30) scale(0.95 1)" font-size="13.6" font-weight="bold" fill="#1a4497">A</text>
<text transform="translate(558.20 119.60) scale(1.0000 1) rotate(0.03)" font-size="3.6" fill="#e51d37">®</text>
<text transform="translate(515.45 140.40) scale(0.7856 1) rotate(0.03)" font-size="10.4" font-weight="bold" letter-spacing="1.0" fill="#1a4497" stroke="#1a4497" stroke-width="0.5" stroke-linejoin="round">LLIANCE</text>
<text transform="translate(486.55 150.80) scale(0.8992 1) rotate(0.03)" font-size="9.6" font-weight="bold" fill="#fff" filter="url(#sh)" stroke="#fff" stroke-width="0.3" stroke-linejoin="round">www.anthonyrael.com</text>
<text transform="translate(492.25 164.40) scale(1.0152 1) rotate(0.03)" font-size="13.3" font-weight="bold" fill="#fff" filter="url(#sh)" stroke="#fff" stroke-width="0.5" stroke-linejoin="round">303.520.3179</text>
</g>
</svg>
</body></html>
